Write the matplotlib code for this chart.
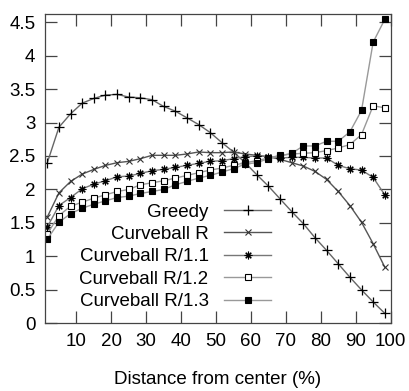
import matplotlib
matplotlib.use("Agg")
import matplotlib.pyplot as plt
from matplotlib.ticker import FuncFormatter

plt.rcParams['font.family'] = ['Liberation Sans', 'DejaVu Sans']

# bin centres (% distance from center)
dist = [1.67, 5.0, 8.33, 11.67, 15.0, 18.33, 21.67, 25.0, 28.33, 31.67,
        35.0, 38.33, 41.67, 45.0, 48.33, 51.67, 55.0, 58.33, 61.67, 65.0,
        68.33, 71.67, 75.0, 78.33, 81.67, 85.0, 88.33, 91.67, 95.0, 98.33]

greedy = [2.40, 2.93, 3.13, 3.29, 3.36, 3.41, 3.42, 3.38, 3.37, 3.34,
          3.24, 3.17, 3.07, 2.97, 2.85, 2.70, 2.56, 2.40, 2.22, 2.05,
          1.86, 1.67, 1.49, 1.28, 1.09, 0.89, 0.69, 0.50, 0.32, 0.15]
cb_r = [1.59, 1.95, 2.12, 2.23, 2.30, 2.36, 2.40, 2.42, 2.46, 2.51,
        2.51, 2.51, 2.53, 2.56, 2.55, 2.55, 2.56, 2.53, 2.51, 2.49,
        2.45, 2.40, 2.35, 2.27, 2.15, 1.97, 1.76, 1.51, 1.19, 0.84]
cb_r11 = [1.44, 1.76, 1.88, 2.01, 2.08, 2.13, 2.19, 2.20, 2.24, 2.28,
          2.30, 2.33, 2.36, 2.39, 2.42, 2.43, 2.46, 2.49, 2.50, 2.49,
          2.47, 2.48, 2.48, 2.47, 2.47, 2.36, 2.31, 2.29, 2.18, 1.92]
cb_r12 = [1.34, 1.61, 1.75, 1.81, 1.87, 1.92, 1.97, 2.00, 2.07, 2.10,
          2.13, 2.17, 2.21, 2.25, 2.29, 2.32, 2.36, 2.40, 2.43, 2.47,
          2.51, 2.53, 2.54, 2.55, 2.58, 2.62, 2.67, 2.82, 3.25, 3.22]
cb_r13 = [1.26, 1.51, 1.64, 1.72, 1.78, 1.83, 1.88, 1.90, 1.94, 1.97,
          2.00, 2.07, 2.12, 2.17, 2.21, 2.26, 2.31, 2.38, 2.40, 2.46,
          2.50, 2.54, 2.65, 2.65, 2.72, 2.72, 2.86, 3.18, 4.20, 4.54]

labels = ["Greedy", "Curveball R", "Curveball R/1.1", "Curveball R/1.2", "Curveball R/1.3"]
xticks = [10, 20, 30, 40, 50, 60, 70, 80, 90, 100]
yticks = [0, 0.5, 1, 1.5, 2, 2.5, 3, 3.5, 4, 4.5]

fig = plt.figure(figsize=(4.09, 3.91), dpi=100)
ax = fig.add_axes([0.110, 0.173, 0.845, 0.791])

fs = 13.5
ax.plot(dist, greedy, color='#666666', lw=1.0, marker='+', ms=6.5, mec='black', mew=0.9, label=labels[0])
ax.plot(dist, cb_r, color='#555555', lw=1.0, marker='x', ms=4.5, mec='#333333', mew=0.8, label=labels[1])
ax.plot(dist, cb_r11, color='#777777', lw=1.0, marker=(8, 2, 0), ms=5.5, mec='black', mew=0.8, label=labels[2])
ax.plot(dist, cb_r12, color='#999999', lw=1.0, marker='s', ms=4.8, mfc='white', mec='black', mew=0.8, label=labels[3])
ax.plot(dist, cb_r13, color='#999999', lw=1.0, marker='s', ms=5, mfc='black', mec='black', mew=0.8, label=labels[4])

ax.set_xlim(1, 100)
ax.set_ylim(0, 4.62)
ax.set_xticks(xticks)
ax.set_yticks(yticks)
ax.yaxis.set_major_formatter(FuncFormatter(lambda v, p: ('%g' % v)))
ax.tick_params(direction='in', length=8.5, width=0.9, color='#444444',
               top=True, right=True, labelsize=fs, pad=7)
for s in ax.spines.values():
    s.set_color('#444444')
    s.set_linewidth(0.9)

ax.set_xlabel("Distance from center (%)", fontsize=fs, labelpad=15)

ax.legend(loc='center right', bbox_to_anchor=(0.655, 0.215), frameon=False,
          markerfirst=False, fontsize=fs, handlelength=2.5, handletextpad=0.85,
          labelspacing=0.28, borderpad=0, borderaxespad=0)

fig.savefig("out.png", dpi=100)
